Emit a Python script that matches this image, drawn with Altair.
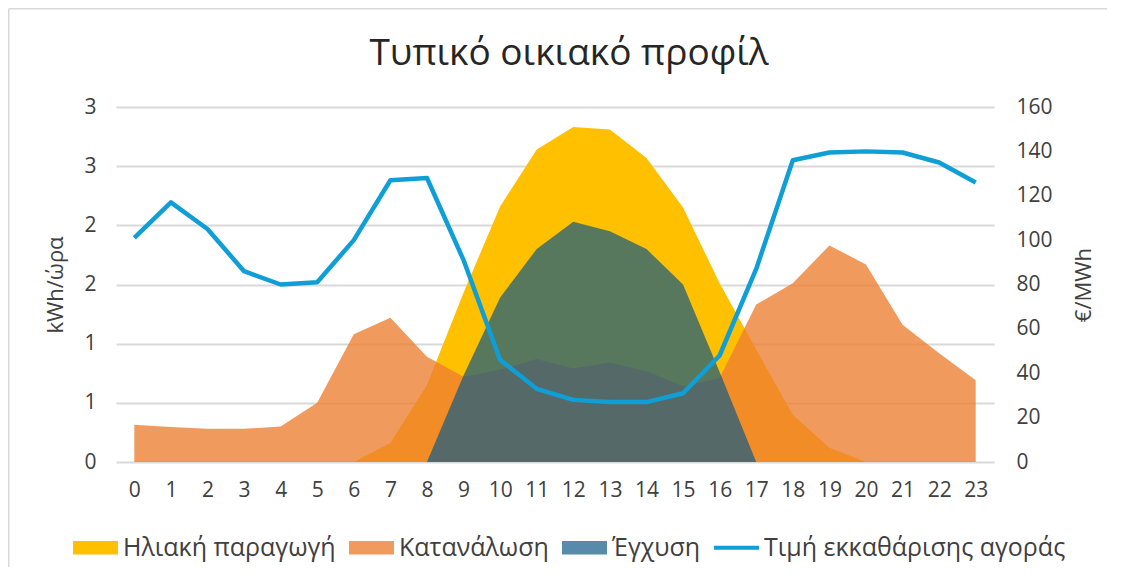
import altair as alt
import pandas as pd

FONT = "Open Sans"

hours = list(range(24))
solar = [0, 0, 0, 0, 0, 0, 0, 0.16, 0.65, 1.43, 2.16, 2.64, 2.83, 2.81, 2.57, 2.15, 1.51, 0.95, 0.40, 0.12, 0, 0, 0, 0]
consumption = [0.315, 0.296, 0.28, 0.28, 0.30, 0.50, 1.08, 1.22, 0.89, 0.72, 0.78, 0.87, 0.79, 0.84, 0.77, 0.64, 0.71, 1.33, 1.51, 1.83, 1.67, 1.16, 0.92, 0.69]
injection = [0, 0, 0, 0, 0, 0, 0, 0, 0, 0.73, 1.39, 1.80, 2.03, 1.95, 1.80, 1.50, 0.76, 0, 0, 0, 0, 0, 0, 0]
price = [101, 117, 105, 86, 80, 81, 100, 127, 128, 91, 46, 33, 28, 27, 27, 31, 48, 87, 136, 139.5, 140, 139.5, 135, 126]

names = ["Ηλιακή παραγωγή", "Κατανάλωση", "Έγχυση", "Τιμή εκκαθάρισης αγοράς"]
colors = ["#FFC000", "#ED7D31", "#115A84", "#0F9ED5"]
left_ticks = [0, 0.5, 1, 1.5, 2, 2.5, 3]
right_ticks = [0, 20, 40, 60, 80, 100, 120, 140, 160]

rows = []
for name, vals in zip(names, [solar, consumption, injection, price]):
    for h, v in zip(hours, vals):
        rows.append({"hour": h, "value": v, "series": name})
df = pd.DataFrame(rows)

W, H = 878, 355

x_enc = alt.X(
    "hour:Q",
    scale=alt.Scale(domain=[-0.5, 23.5], nice=False, zero=False),
    axis=alt.Axis(values=hours, format="d", title=None, grid=False, domain=False,
                  ticks=False, labelPadding=17),
)

shape_sig = ("datum.value === '" + names[3] + "' ? 'M-1,-0.09H1V0.09H-1Z' : 'M-1,-0.3H1V0.3H-1Z'")
op_sig = ("datum.value === '" + names[1] + "' ? 0.78 : (datum.value === '" + names[2] + "' ? 0.7 : 1)")

color_enc = alt.Color(
    "series:N",
    scale=alt.Scale(domain=names, range=colors),
    legend=alt.Legend(
        title=None, orient="none", direction="horizontal",
        legendX=-43, legendY=418,
        symbolType=alt.ExprRef(expr=shape_sig), symbolSize=2025,
        symbolOpacity=alt.ExprRef(expr=op_sig),
        symbolFillColor=alt.ExprRef(expr="scale('color', datum.value)"),
        symbolStrokeWidth=0, labelFontSize=25, labelFont=FONT, labelColor="#404040",
        labelOffset=5, columnPadding=13, labelLimit=600,
    ),
)

y_left = alt.Y(
    "value:Q", stack=None,
    scale=alt.Scale(domain=[0, 3], nice=False),
    axis=alt.Axis(values=left_ticks, labelExpr="'' + round(datum.value)", title="kWh/ώρα",
                  domain=False, ticks=False,
                  labelPadding=20, titleX=-61, titleY=H / 2, titleAngle=270,
                  titleAlign="center", titleBaseline="middle"),
)

y_right = alt.Y(
    "value:Q",
    scale=alt.Scale(domain=[0, 160], nice=False),
    axis=alt.Axis(values=right_ticks, format="d", title="€/MWh", orient="right", grid=False,
                  domain=False, ticks=False, labelPadding=22, titleX=89, titleY=H / 2,
                  titleAngle=270, titleAlign="center", titleBaseline="middle"),
)

base = alt.Chart(df)

solar_area = base.transform_filter(alt.datum.series == names[0]).mark_area(opacity=1).encode(
    x=x_enc, y=y_left, color=color_enc)
cons_area = base.transform_filter(alt.datum.series == names[1]).mark_area(opacity=0.78).encode(
    x=x_enc, y=y_left, color=color_enc)
inj_area = base.transform_filter(alt.datum.series == names[2]).mark_area(opacity=0.7).encode(
    x=x_enc, y=y_left, color=color_enc)

areas = alt.layer(solar_area, cons_area, inj_area)

price_line = base.transform_filter(alt.datum.series == names[3]).mark_line(
    strokeWidth=4.5, strokeJoin="round").encode(x=x_enc, y=y_right, color=color_enc)

border_df = pd.DataFrame({"k": [0]})
top_border = alt.Chart(border_df).mark_rule(color="#D9D9D9", strokeWidth=1.5).encode(
    x=alt.value(-107.25), x2=alt.value(W + 113), y=alt.value(-98.25))
left_border = alt.Chart(border_df).mark_rule(color="#D9D9D9", strokeWidth=1.5).encode(
    x=alt.value(-107.25), y=alt.value(-98.25), y2=alt.value(H + 110))

chart = alt.layer(areas, price_line, top_border, left_border).resolve_scale(
    y="independent"
).properties(
    width=W, height=H,
    padding={"left": 108, "top": 99, "right": 115, "bottom": 105},
    autosize=alt.AutoSizeParams(type="none"),
    title=alt.TitleParams("Τυπικό οικιακό προφίλ", font=FONT, fontSize=37, fontWeight="normal",
                          color="#262626", anchor="middle", dx=14, offset=0, dy=65),
).configure_view(stroke=None).configure_axis(
    labelFont=FONT, labelFontSize=21, labelColor="#404040",
    titleFont=FONT, titleFontSize=22, titleFontWeight="normal", titleColor="#404040",
    gridColor="#D9D9D9", gridWidth=2,
)

chart.save("out.html", embed_options={"renderer": "svg", "actions": False})
